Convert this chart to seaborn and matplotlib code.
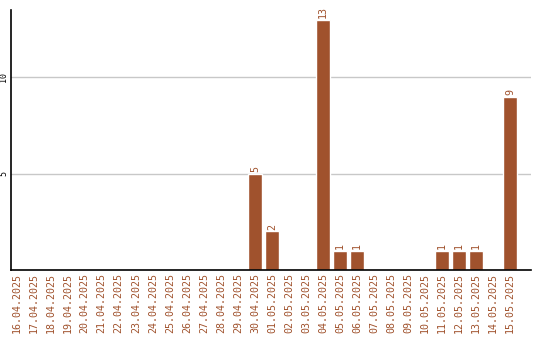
import matplotlib
matplotlib.use("Agg")
import matplotlib.pyplot as plt
import seaborn as sns
import pandas as pd

dates = ["16.04.2025", "17.04.2025", "18.04.2025", "19.04.2025", "20.04.2025",
         "21.04.2025", "22.04.2025", "23.04.2025", "24.04.2025", "25.04.2025",
         "26.04.2025", "27.04.2025", "28.04.2025", "29.04.2025", "30.04.2025",
         "01.05.2025", "02.05.2025", "03.05.2025", "04.05.2025", "05.05.2025",
         "06.05.2025", "07.05.2025", "08.05.2025", "09.05.2025", "10.05.2025",
         "11.05.2025", "12.05.2025", "13.05.2025", "14.05.2025", "15.05.2025"]
counts = [0, 0, 0, 0, 0, 0, 0, 0, 0, 0, 0, 0, 0, 0, 5,
          2, 0, 0, 13, 1, 1, 0, 0, 0, 0, 1, 1, 1, 0, 9]
yticks = [5, 10]

sns.set_style("white")
plt.rcParams['font.family'] = ['DejaVu Sans Mono', 'DejaVu Sans']

color = "#A0522D"
df = pd.DataFrame({"date": dates, "count": counts})

fig = plt.figure(figsize=(5.4, 3.4), dpi=100)
ax = fig.add_axes([11/540, 70/340, 520/540, 260/340])
sns.barplot(data=df, x="date", y="count", color=color, saturation=1,
            width=0.84, ax=ax)

ax.set_ylim(0, 13.5)
ax.set_xlim(-0.33, len(dates) - 1 + 1.22)
ax.set_yticks(yticks)
ax.set_yticklabels([str(t) for t in yticks], rotation=90, va="center",
                   fontsize=6, color="black")
ax.yaxis.grid(True, color="#c8c8c8", linewidth=1)
ax.set_axisbelow(True)
ax.tick_params(axis="both", length=0, pad=2)
ax.set_xticks(range(len(dates)))
ax.set_xticklabels(dates, rotation=90, fontsize=7.2, color=color)
ax.set_xlabel("")
ax.set_ylabel("")

for s in ["top", "right"]:
    ax.spines[s].set_visible(False)
for s in ["left", "bottom"]:
    ax.spines[s].set_color("black")
    ax.spines[s].set_linewidth(1.2)

labels = [str(v) if v > 0 else "" for v in counts]
ax.bar_label(ax.containers[0], labels=labels, rotation=90, fontsize=7.2,
             color=color, padding=1)

fig.savefig("out.png", dpi=100)
